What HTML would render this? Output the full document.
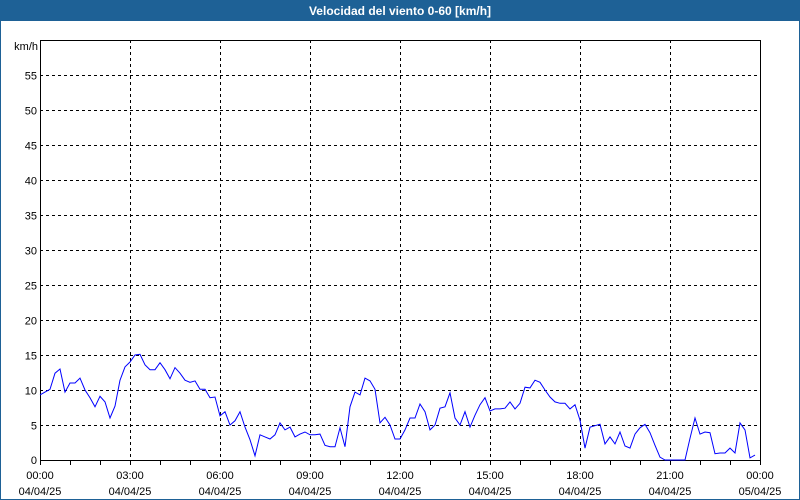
<!DOCTYPE html>
<html><head><meta charset="utf-8"><style>
body{margin:0;background:#fff;}
svg{display:block;font-family:"Liberation Sans",sans-serif;}
</style></head><body>
<svg id="c" width="800" height="500">
<rect x="0.5" y="0.5" width="799" height="499" fill="#fff" stroke="#1e6196"/>
<rect x="0" y="0" width="800" height="21" fill="#1e6196"/>
<text x="400" y="15" text-anchor="middle" fill="#fff" font-size="12" font-weight="bold">Velocidad del viento 0-60 [km/h]</text>
<text x="38" y="50" text-anchor="end" font-size="11">km/h</text>
<g id="grid"></g>
<g id="axes"></g>
<polyline id="line" fill="none" stroke="#0000ff" stroke-width="1"/>
</svg>
<script>
const yTicks=[5,10,15,20,25,30,35,40,45,50,55];
const xTickTimes=["00:00","03:00","06:00","09:00","12:00","15:00","18:00","21:00","00:00"];
const xTickDates=["04/04/25","04/04/25","04/04/25","04/04/25","04/04/25","04/04/25","04/04/25","04/04/25","05/04/25"];
const speeds=[9.3,9.7,10.1,12.4,13,9.7,11,11,11.7,10,8.9,7.6,9.1,8.3,6,7.7,11.4,13.3,14,15,15.1,13.6,12.9,12.9,13.9,12.9,11.6,13.2,12.4,11.4,11.1,11.3,10.1,10.1,8.9,9,6.3,6.9,5,5.6,6.9,4.7,2.9,0.6,3.6,3.3,3,3.6,5.3,4.3,4.7,3.3,3.7,4,3.6,3.6,3.7,2.1,1.9,1.9,4.6,1.9,7.6,9.7,9.3,11.7,11.3,10.1,5.3,6.1,5,3,3,4.3,6,6,8,6.9,4.3,5,7.4,7.6,9.6,6,5,6.9,4.7,6.4,7.9,8.9,7,7.3,7.3,7.4,8.3,7.3,8.1,10.4,10.3,11.4,11.1,10,9,8.3,8.1,8.1,7.3,7.9,5.7,1.7,4.7,4.9,5.1,2.3,3.3,2.3,4,2,1.7,3.7,4.6,5.1,3.9,2.1,0.4,0,0,0,0,0,3.1,6,3.7,4,3.9,0.9,1,1,1.7,1,5.3,4.3,0.3,0.7];
const NS="http://www.w3.org/2000/svg";
const X0=40,X1=760,Y0=460,Y1=40,YMAX=60,HOURS=24;
const yS=v=>Y0-(v/YMAX)*(Y0-Y1);
const xS=h=>X0+(h/HOURS)*(X1-X0);
function mk(t,a,p){const e=document.createElementNS(NS,t);for(const k in a)e.setAttribute(k,a[k]);p.appendChild(e);return e;}
const grid=document.getElementById('grid'),axes=document.getElementById('axes');
yTicks.forEach(v=>{
 const y=Math.round(yS(v))+0.5;
 const l=mk('line',{x1:X0,x2:X1,y1:y,y2:y,stroke:'#000','stroke-dasharray':'3,3'},grid);
 
 
 const t=mk('text',{x:37,y:y+4,'text-anchor':'end','font-size':'11'},axes);
 t.textContent=v;
 
 
});
const t0=mk('text',{x:37,y:464,'text-anchor':'end','font-size':'11'},axes);
t0.textContent='0';


for(let h=1;h<HOURS;h++){
 const x=Math.round(xS(h))+0.5;
 if(h%3===0){
  const l=mk('line',{x1:x,x2:x,y1:Y1,y2:Y0,stroke:'#000','stroke-dasharray':'3,3'},grid);
  
  
 }
}
for(let h=0;h<=HOURS;h++){
 const x=Math.round(xS(h))+0.5;
 const tk=mk('line',{x1:x,x2:x,y1:Y0,y2:Y0+5,stroke:'#000'},axes);
 
 
}
xTickTimes.forEach((s,i)=>{
 const x=xS(i*3);
 const a=mk('text',{x:x,y:479,'text-anchor':'middle','font-size':'11'},axes);
 a.textContent=s;
 
 
 const b=mk('text',{x:x,y:495,'text-anchor':'middle','font-size':'11'},axes);
 b.textContent=xTickDates[i];
 
 
});
const fr=mk('rect',{x:X0+0.5,y:Y1+0.5,width:X1-X0,height:Y0-Y1,fill:'none',stroke:'#000'},axes);


const step=HOURS/speeds.length;
document.getElementById('line').setAttribute('points',speeds.map((v,i)=>xS(i*step).toFixed(1)+','+yS(v).toFixed(1)).join(' '));
</script>
</body></html>
